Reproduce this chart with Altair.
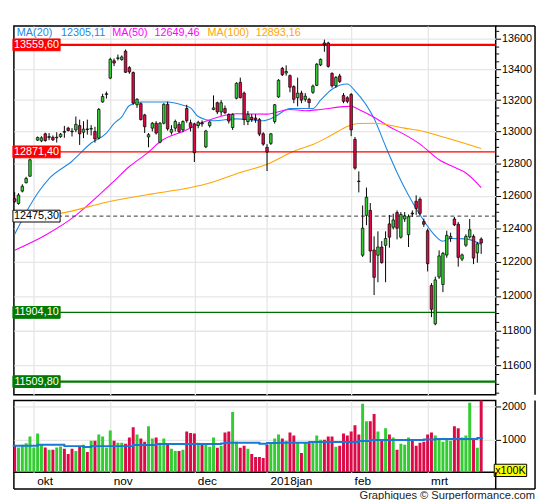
import altair as alt
import pandas as pd

# ---------------- data ----------------
opens = [12581, 12552, 12628, 12680, 12720, 12855, 12945, 12941, 12985, 12962,
         12963, 12960, 12967, 13000, 13021, 13002, 13010, 13037, 12995, 13016,
         13015, 13000, 12958, 13188, 13236, 13342, 13455, 13470, 13463, 13518,
         13410, 13378, 13170, 13177, 13105, 12965, 13021, 13052, 12932, 13052,
         13173, 12995, 13021, 13045, 13010, 13146, 13055, 13048, 13038, 13055,
         12903, 13037, 13140, 13183, 13124, 13146, 13108, 13025, 13212, 13314,
         13245, 13063, 13090, 13085, 13075, 12985, 12900, 12925, 13063, 13220,
         13405, 13375, 13358, 13287, 13215, 13245, 13205, 13205, 13250, 13295,
         13428, 13572, 13572, 13372, 13292, 13356, 13230, 13215, 13236, 12950,
         12690, 12240, 12480, 12510, 12271, 12240, 12289, 12299, 12428, 12408,
         12497, 12348, 12458, 12363, 12494, 12566, 12578, 12442, 12387, 12061,
         11838, 12111, 12067, 12241, 12341, 12458, 12426, 12217, 12300, 12349,
         12353, 12254, 12337]
highs = [12622, 12615, 12670, 12716, 12830, 12908, 12968, 12970, 12992, 12990,
         12975, 12995, 12990, 13035, 13030, 13021, 13095, 13075, 13065, 13075,
         13040, 13030, 13150, 13241, 13255, 13475, 13470, 13496, 13490, 13529,
         13420, 13385, 13212, 13185, 13112, 12990, 13060, 13065, 13060, 13180,
         13190, 13040, 13075, 13060, 13070, 13170, 13075, 13055, 13068, 13070,
         13010, 13065, 13230, 13190, 13200, 13165, 13115, 13115, 13315, 13345,
         13255, 13130, 13110, 13110, 13085, 12995, 12920, 12990, 13175, 13335,
         13415, 13425, 13365, 13295, 13345, 13260, 13245, 13215, 13300, 13440,
         13470, 13594, 13580, 13380, 13355, 13370, 13245, 13225, 13245, 12965,
         12750, 12540, 12650, 12555, 12353, 12383, 12325, 12383, 12482, 12490,
         12510, 12500, 12500, 12485, 12510, 12602, 12590, 12460, 12400, 12075,
         12113, 12269, 12260, 12387, 12375, 12470, 12440, 12250, 12365, 12458,
         12365, 12318, 12347]
lows = [12556, 12545, 12620, 12675, 12715, 12846, 12940, 12932, 12935, 12945,
        12940, 12930, 12960, 12960, 13000, 12968, 12995, 12915, 12958, 12980,
        12975, 12930, 12950, 13183, 13210, 13335, 13420, 13457, 13455, 13375,
        13370, 13170, 13150, 13070, 12990, 12900, 13000, 12980, 12925, 13045,
        13005, 12980, 13000, 12990, 12995, 13055, 13000, 12808, 13020, 13030,
        12895, 13025, 13135, 13110, 13100, 13110, 13050, 13010, 13205, 13210,
        13040, 13040, 13060, 13055, 12970, 12910, 12752, 12915, 13050, 13215,
        13355, 13358, 13250, 13180, 13160, 13180, 13190, 13150, 13240, 13290,
        13420, 13514, 13410, 13280, 13280, 13310, 13180, 13180, 12970, 12760,
        12620, 12230, 12420, 12196, 12005, 12080, 12190, 12080, 12285, 12395,
        12335, 12340, 12440, 12289, 12470, 12483, 12480, 12410, 12144, 11877,
        11830, 12100, 12022, 12225, 12320, 12415, 12172, 12205, 12290, 12340,
        12187, 12196, 12248]
closes = [12565, 12604, 12658, 12706, 12822, 12902, 12962, 12960, 12943, 12968,
          12947, 12964, 12983, 12995, 13006, 12998, 13045, 12985, 13015, 13012,
          13019, 12953, 13140, 13223, 13241, 13464, 13440, 13474, 13480, 13380,
          13382, 13180, 13205, 13075, 13030, 12980, 13052, 12990, 13052, 13173,
          13017, 13012, 13063, 13000, 13063, 13068, 13025, 12866, 13058, 13048,
          13003, 13060, 13150, 13124, 13183, 13119, 13066, 13108, 13308, 13216,
          13075, 13108, 13075, 13075, 12983, 12920, 12870, 12985, 13170, 13328,
          13364, 13385, 13283, 13205, 13245, 13200, 13225, 13184, 13290, 13432,
          13464, 13560, 13418, 13292, 13346, 13320, 13192, 13192, 13010, 12770,
          12687, 12402, 12590, 12265, 12109, 12289, 12196, 12340, 12348, 12452,
          12402, 12485, 12476, 12472, 12488, 12522, 12492, 12426, 12190, 11922,
          12094, 12236, 12251, 12359, 12353, 12422, 12227, 12242, 12353, 12393,
          12223, 12308, 12313]
volumes = [811, 760, 842, 884, 1092, 760, 1186, 832, 760, 686,
           686, 760, 790, 718, 562, 718, 655, 800, 842, 624,
           967, 967, 1154, 1092, 760, 1279, 967, 905, 905, 874,
           1060, 1373, 1154, 1030, 936, 1404, 1030, 1060, 905, 1030,
           842, 718, 655, 655, 686, 1248, 1200, 1186, 905, 842,
           842, 780, 1060, 749, 811, 1217, 1248, 1841, 936, 749,
           811, 718, 562, 468, 468, 437, 842, 874, 1030, 1154,
           1030, 967, 1217, 1123, 905, 593, 905, 905, 936, 1123,
           998, 998, 1092, 1092, 780, 811, 1186, 1123, 1248, 1435,
           1154, 2090, 1560, 1560, 1778, 1248, 998, 1342, 1154, 1060,
           686, 874, 842, 1060, 967, 811, 905, 936, 1154, 1217,
           1123, 1030, 936, 998, 967, 1404, 1342, 1060, 1123, 2122,
           998, 749, 2300]

ma20_idx = [0, 4, 6, 9, 15, 20, 24, 26, 28, 30, 33, 40, 44, 46, 48, 52, 58, 65, 68,
            72, 78, 80, 83, 87, 89, 94, 97, 100, 103, 106, 109, 112, 114, 118, 122]
ma20_val = [12365, 12540, 12615, 12705, 12813, 12927, 12990, 13050, 13093, 13165,
            13188, 13188, 13167, 13150, 13095, 13068, 13080, 13068, 13093, 13146,
            13146, 13199, 13270, 13304, 13260, 13082, 12907, 12743, 12602, 12483,
            12383, 12324, 12340, 12338, 12305]
ma50_idx = [0, 8, 16, 20, 26, 30, 35, 38, 44, 50, 58, 66, 72, 76, 80, 86, 88, 90,
            94, 98, 102, 106, 111, 115, 118, 122]
ma50_val = [12270, 12360, 12480, 12560, 12690, 12780, 12870, 12935, 13000, 13065,
            13112, 13110, 13140, 13132, 13140, 13158, 13160, 13140, 13090, 13030,
            12980, 12920, 12822, 12775, 12740, 12650]
ma100_idx = [0, 12, 24, 36, 44, 50, 59, 66, 73, 78, 83, 87, 90, 94, 102, 107, 113, 118, 122]
ma100_val = [12470, 12492, 12560, 12611, 12641, 12672, 12743, 12794, 12876, 12917,
             12979, 13031, 13050, 13052, 13021, 13000, 12958, 12922, 12893]
vma_idx = [-0.5, 6, 13, 18, 20, 31, 37, 54, 55, 64, 66, 69, 77, 90, 93, 107, 110, 121, 122.5]
vma_val = [811, 842, 800, 770, 800, 832, 863, 884, 905, 874, 894, 905, 926, 957,
           988, 1005, 1019, 1050, 1050]

month_idx = [5, 25, 47, 66, 88, 108]
month_labels = ["okt", "nov", "dec", "2018jan", "feb", "mrt"]

level_values = [13559.60, 12871.40, 12475.30, 11904.10, 11509.80]
level_texts = ["13559,60", "12871,40", "12475,30", "11904,10", "11509,80"]

legend_names = ["MA(20)", "MA(50)", "MA(100)"]
legend_values = ["12305,11", "12649,46", "12893,16"]

# ---------------- styling ----------------
W, HP, HV, BAND, RIGHT = 490, 375, 73, 17, 530
GREEN, RED = "#33cc33", "#dc0a46"
GRID = "#e6e6e6"
FONT = "Liberation Sans"
BLUE, MAGENTA, ORANGE = "#1e88e5", "#ff00ff", "#ffa500"
ma_colors = [BLUE, MAGENTA, ORANGE]
legend_x = [(3, 48), (100, 143), (197, 246)]
level_styles = [
    dict(line=dict(color="#ff0000", strokeWidth=2.2), fill="#ff0000", stroke="#ff0000", text="white"),
    dict(line=dict(color="#ff0000", strokeWidth=1.4), fill="#ff0000", stroke="#ff0000", text="white"),
    dict(line=dict(color="#333333", strokeWidth=1, strokeDash=[4, 3]), fill="white", stroke="black", text="black"),
    dict(line=dict(color="#006f00", strokeWidth=1.2), fill="#007a00", stroke="#007a00", text="white"),
    dict(line=dict(color="#007a00", strokeWidth=2.5), fill="#007a00", stroke="#007a00", text="white"),
]
# wide rectangles drawn as custom symbols: path unit = sqrt(size)/2 px
BOX = "M-4,-1L4,-1L4,1L-4,1Z"            # 48 x 12 px at size 144
SMALLBOX = "M-2.64,-1L2.64,-1L2.64,1L-2.64,1Z"  # 33 x 12.5 px at size 156

n = len(opens)
df = pd.DataFrame({"idx": list(range(n)), "open": opens, "high": highs,
                   "low": lows, "close": closes, "vol": volumes})
df["dir"] = ["up" if c >= o else "down" for o, c in zip(opens, closes)]
one = pd.DataFrame({"k": [0]})

xs = alt.Scale(domain=[-0.2, 125.8], nice=False, zero=False, padding=0)
ys = alt.Scale(type="log", domain=[11437, 13685], nice=False, padding=0)
dir_scale = alt.Scale(domain=["up", "down"], range=[GREEN, RED])

major = "datum.value % 200 === 0"
y_axis = alt.Axis(orient="right", values=list(range(11450, 13700, 50)), format="d",
                  labelExpr=f"{major} ? datum.label : ''", labelOverlap=False,
                  labelFontSize=11, labelPadding=1, labelColor="black",
                  tickSize={"condition": {"test": major, "value": 5}, "value": 3},
                  tickColor="black", grid=True, gridColor=GRID, gridWidth=1.3,
                  gridOpacity={"condition": {"test": major, "value": 1}, "value": 0},
                  domain=False, title=None)
x_grid_axis = alt.Axis(values=month_idx, labels=False, ticks=False, domain=False,
                       title=None, grid=True, gridColor=GRID, gridWidth=1.3, minExtent=0)
X = alt.X("idx:Q", scale=xs, axis=x_grid_axis)


def Yp(field):
    return alt.Y(field, scale=ys, axis=y_axis)


base = alt.Chart(df)
price_layers = []

# moving averages
for idxs, vals, col in [(ma20_idx, ma20_val, BLUE), (ma50_idx, ma50_val, MAGENTA),
                        (ma100_idx, ma100_val, ORANGE)]:
    d = pd.DataFrame({"idx": idxs, "v": vals})
    price_layers.append(alt.Chart(d).mark_line(color=col, strokeWidth=1.1, interpolate="monotone")
                        .encode(X, Yp("v:Q")))

# horizontal levels
for val, st in zip(level_values, level_styles):
    d = pd.DataFrame({"v": [val]})
    price_layers.append(alt.Chart(d).mark_rule(**st["line"]).encode(Yp("v:Q")))

# candles
price_layers.append(base.mark_rule(color="black", strokeWidth=1)
                    .encode(X, Yp("low:Q"), alt.Y2("high:Q")))
price_layers.append(base.mark_bar(size=2.6, stroke="black", strokeWidth=0.7)
                    .encode(X, Yp("open:Q"), alt.Y2("close:Q"),
                            alt.Color("dir:N", scale=dir_scale, legend=None)))

# level label boxes
for val, txt, st in zip(level_values, level_texts, level_styles):
    d = pd.DataFrame({"v": [val], "t": [txt]})
    price_layers.append(alt.Chart(d).mark_point(shape=BOX, size=144, filled=True,
                                                fill=st["fill"], stroke=st["stroke"],
                                                strokeWidth=1, opacity=1)
                        .encode(x=alt.value(23), y=Yp("v:Q")))
    price_layers.append(alt.Chart(d).mark_text(align="center", baseline="middle", fontSize=11,
                                               color=st["text"], font=FONT)
                        .encode(x=alt.value(23), y=Yp("v:Q"), text="t:N"))

# MA legend
for name, val, col, (x1, x2) in zip(legend_names, legend_values, ma_colors, legend_x):
    price_layers.append(alt.Chart(one).mark_text(align="left", baseline="middle", fontSize=11,
                                                 color=col, font=FONT)
                        .encode(x=alt.value(x1), y=alt.value(7), text=alt.value(name)))
    price_layers.append(alt.Chart(one).mark_text(align="left", baseline="middle", fontSize=11,
                                                 color=col, font=FONT)
                        .encode(x=alt.value(x2), y=alt.value(7), text=alt.value(val)))

# outer frame pieces beside the price panel
price_layers.append(alt.Chart(one).mark_rule(color="black", strokeWidth=1.5)
                    .encode(x=alt.value(RIGHT), y=alt.value(0), y2=alt.value(HP)))
price_layers.append(alt.Chart(one).mark_rule(color="black", strokeWidth=1.5)
                    .encode(x=alt.value(W), x2=alt.value(RIGHT), y=alt.value(0)))

price = alt.layer(*price_layers).properties(width=W, height=HP)

# ---------------- volume panel ----------------
label_expr = "".join(f"datum.value === {v} ? '{t}' : " for v, t in zip(month_idx, month_labels)) + "''"
vol_x_axis = alt.Axis(values=month_idx, labelExpr=label_expr, labelAlign="left", labelOffset=3,
                      labelPadding=3, labelFontSize=12, labelColor="black", labelFlush=False,
                      labelOverlap=False, ticks=False, domain=False, grid=True,
                      gridColor=GRID, gridWidth=1.3, title=None)
vol_y_axis = alt.Axis(orient="right", values=[1000, 2000], format="d", labelFontSize=11,
                      labelPadding=1, labelColor="black", tickSize=5, tickColor="black",
                      grid=True, gridColor=GRID, gridWidth=1.3, domain=False, title=None)
vs = alt.Scale(domain=[0, 2190], nice=False, zero=True, padding=0)
XV = alt.X("idx:Q", scale=xs, axis=vol_x_axis)

vol_layers = [
    base.mark_bar(size=3.0, clip=True).encode(
        XV, alt.Y("vol:Q", scale=vs, axis=vol_y_axis),
        alt.Color("dir:N", scale=dir_scale, legend=None)),
    alt.Chart(pd.DataFrame({"idx": vma_idx, "v": vma_val}))
    .mark_line(interpolate="step-after", color="#1878d6", strokeWidth=2)
    .encode(XV, alt.Y("v:Q", scale=vs, axis=vol_y_axis)),
    alt.Chart(one).mark_point(shape=SMALLBOX, size=156, filled=True, fill="#ffff00",
                              stroke="black", strokeWidth=1, opacity=1)
    .encode(x=alt.value(505), y=alt.value(HV - 2)),
    alt.Chart(one).mark_text(align="center", baseline="middle", fontSize=11, color="black", font=FONT)
    .encode(x=alt.value(505), y=alt.value(HV - 1.5), text=alt.value("x100K")),
    # frame around the date band and right column
    alt.Chart(one).mark_rule(color="black", strokeWidth=1.5)
    .encode(x=alt.value(0), x2=alt.value(RIGHT), y=alt.value(HV + BAND)),
    alt.Chart(one).mark_rule(color="black", strokeWidth=1.5)
    .encode(x=alt.value(0), y=alt.value(HV), y2=alt.value(HV + BAND)),
    alt.Chart(one).mark_rule(color="black", strokeWidth=1.5)
    .encode(x=alt.value(W), y=alt.value(HV), y2=alt.value(HV + BAND)),
    alt.Chart(one).mark_rule(color="black", strokeWidth=1.5)
    .encode(x=alt.value(RIGHT), y=alt.value(0), y2=alt.value(HV + BAND)),
    alt.Chart(one).mark_text(align="right", baseline="middle", fontSize=11.3, color="#222222", font=FONT)
    .encode(x=alt.value(RIGHT), y=alt.value(HV + BAND + 7),
            text=alt.value("Graphiques © Surperformance.com")),
]
volume = alt.layer(*vol_layers).properties(width=W, height=HV)

chart = (alt.vconcat(price, volume, spacing=0)
         .properties(padding={"left": 0, "top": 12, "right": 0, "bottom": 0}, background="white")
         .configure(font=FONT)
         .configure_view(stroke="black", strokeWidth=1.5)
         .configure_axis(labelFont=FONT))

chart.save("out.html", embed_options={"renderer": "svg", "actions": False})
